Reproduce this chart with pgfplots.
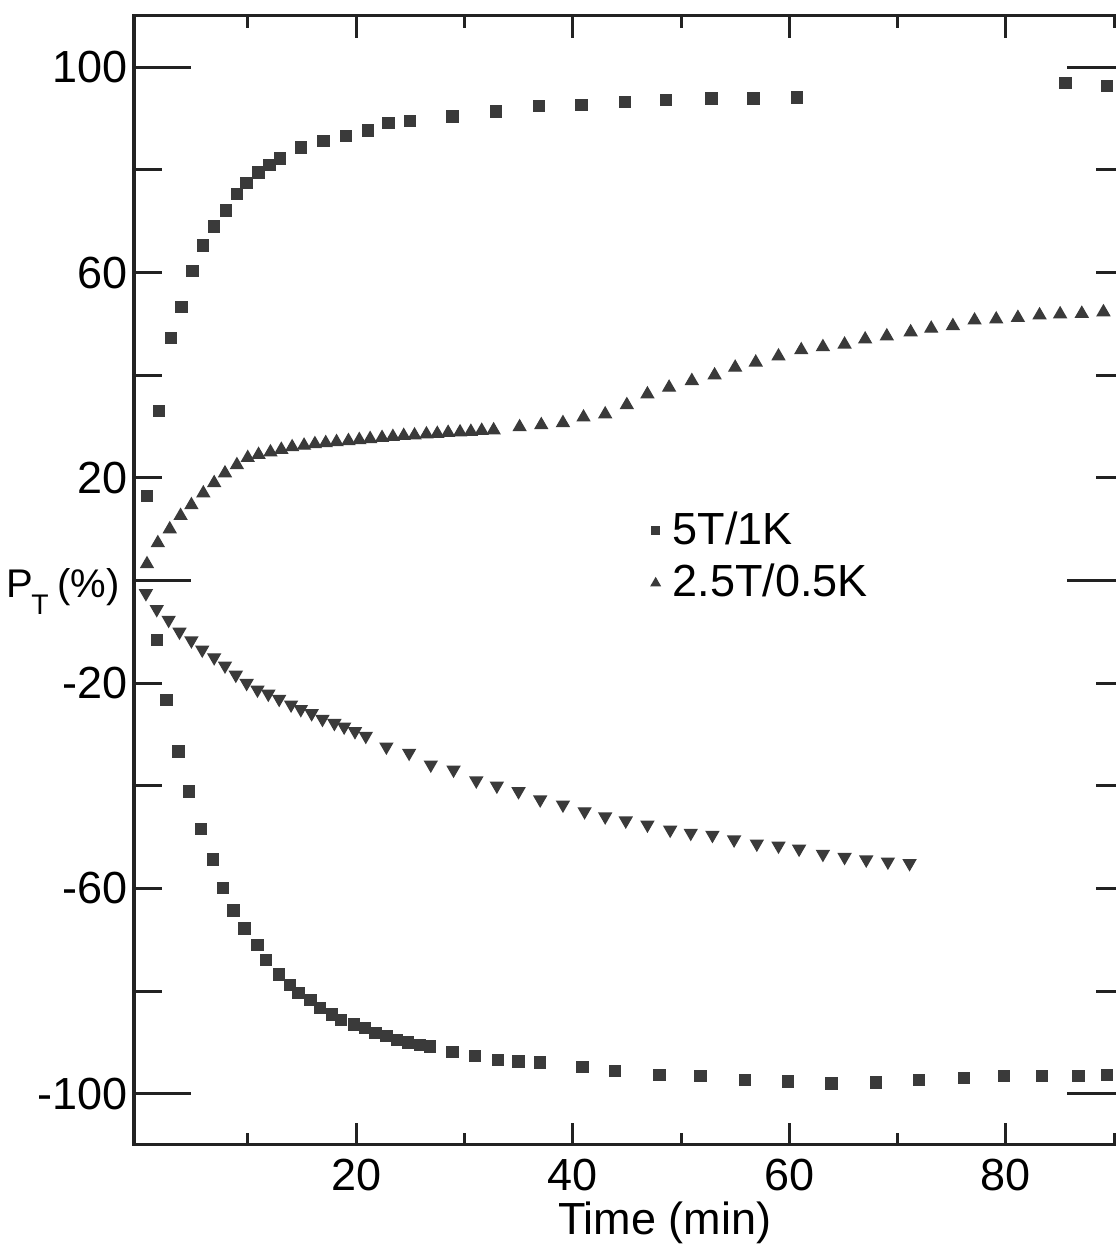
\documentclass[border=0pt]{standalone}
\usepackage{fontspec}
\setmainfont{Liberation Sans}
\usepackage{pgfplots}
\pgfplotsset{compat=1.18}
\definecolor{ink}{HTML}{222222}
\definecolor{mk}{HTML}{3A3A3A}
\pgfplotsset{
  base/.style={
    at={(0pt,0pt)}, anchor=south west,
    scale only axis, width=297pt, height=338.7pt,
    xmin=-0.5, xmax=90.9, ymin=-110, ymax=110,
    axis line style={line width=0.9pt, ink},
    tick style={line width=0.9pt, ink},
    tick align=inside,
  }
}
\begin{document}
\begin{tikzpicture}[font=\fontsize{13.5}{16}\selectfont]
\useasboundingbox (-40.2pt,-30pt) rectangle (294.3pt,343.5pt);
% x ticks
\begin{axis}[base,
  ytick=\empty,
  xtick={20,40,60,80}, xticklabels={20,40,60,80},
  minor xtick={10,30,50,70,90},
  major tick length=6.6pt, minor tick length=3.6pt,
  xticklabel style={font=\fontsize{13.5}{16}\selectfont, inner sep=0pt, yshift=-3.9pt},
  xlabel={Time (min)},
  every axis x label/.style={at={(axis description cs:0.536,0)}, anchor=base, yshift=-26.7pt, inner sep=0pt, font=\fontsize{13.5}{16}\selectfont},
]
\end{axis}
% long y ticks at -100, 0, 100 (no labels)
\begin{axis}[base,
  xtick=\empty,
  ytick={-100,0,100}, yticklabels={\empty,\empty,\empty},
  major tick length=17pt,
]
\end{axis}
% y ticks, labels and data
\begin{axis}[base,
  xtick=\empty,
  ytick={-100,-60,-20,20,60,100}, yticklabels={-100,-60,-20,20,60,100},
  minor ytick={-80,-40,40,80},
  major tick length=8.4pt, minor tick length=8.4pt,
  yticklabel style={font=\fontsize{13.5}{16}\selectfont, inner sep=0pt, xshift=-1.8pt},
  ylabel={P\kern-0.5pt\raisebox{-5.2pt}{\fontsize{8.5}{10}\selectfont T}\hspace{2.5pt}(\%)},
  every axis y label/.style={at={(axis description cs:0,0.5)}, anchor=base east, xshift=-4.2pt, yshift=-5pt, inner sep=0pt, rotate=0, font=\fontsize{12}{14}\selectfont},
  legend image code/.code={\draw[#1] plot coordinates {(0.09cm,0cm)}; \path (6pt,0pt);},
  legend style={at={(axis cs:47.2,14.5)}, anchor=north west, draw=none, fill=none, inner sep=0pt, row sep=1.5pt, font=\fontsize{13.5}{16}\selectfont, nodes={inner sep=1.5pt}},
  legend cell align=left,
]
% 5T/1K positive
\addplot[only marks, mark=square*, mark size=1.65pt, mk, forget plot] coordinates {
(0.7,16.5)(1.8,33.0)(2.9,47.2)(3.9,53.3)(4.9,60.3)(5.9,65.3)(6.9,69.0)(8.0,72.1)(9.0,75.3)(9.9,77.4)
(11.0,79.5)(12.0,80.9)(13.0,82.2)(14.9,84.4)(17.0,85.7)(19.1,86.6)(21.1,87.7)(23.0,89.1)(25.0,89.5)
(28.9,90.4)(32.9,91.4)(36.9,92.4)(40.8,92.6)(44.8,93.2)(48.6,93.6)(52.8,93.9)(56.7,93.9)(60.7,94.1)
(85.5,96.9)(89.3,96.3)
};
% 5T/1K negative
\addplot[only marks, mark=square*, mark size=1.65pt, mk, forget plot] coordinates {
(1.6,-11.6)(2.5,-23.3)(3.6,-33.3)(4.6,-41.1)(5.7,-48.4)(6.8,-54.4)(7.7,-59.9)(8.7,-64.3)(9.7,-67.8)
(10.9,-71.0)(11.7,-73.9)(12.9,-76.8)(13.9,-78.8)(14.7,-80.4)(15.8,-81.7)(16.7,-83.3)(17.8,-84.6)
(18.6,-85.6)(19.8,-86.5)(20.8,-87.2)(21.8,-88.2)(22.8,-88.8)(23.8,-89.5)(24.8,-90.0)(25.9,-90.5)
(26.8,-90.8)(28.9,-91.9)(31.0,-92.6)(33.1,-93.4)(35.0,-93.7)(37.0,-93.9)(40.9,-94.8)(43.9,-95.6)
(48.0,-96.3)(51.8,-96.5)(55.9,-97.3)(59.9,-97.6)(63.9,-98.0)(68.0,-97.8)(72.0,-97.3)(76.1,-96.9)
(79.8,-96.5)(83.3,-96.6)(86.7,-96.5)(89.3,-96.3)
};
% 2.5T/0.5K positive
\addplot[only marks, mark=triangle*, mark size=2.1pt, mk, forget plot] coordinates {
(0.7,3.2)(1.7,7.3)(2.8,10.0)(3.8,12.6)(4.8,14.7)(5.9,17.0)(6.9,19.0)(7.9,20.9)(9.0,22.5)(10.0,23.9)
(11.0,24.5)(12.1,25.0)(13.1,25.5)(14.1,26.0)(15.2,26.3)(16.2,26.6)(17.2,26.8)(18.2,27.0)(19.3,27.2)
(20.3,27.4)(21.3,27.6)(22.4,27.8)(23.4,28.0)(24.4,28.2)(25.4,28.3)(26.5,28.5)(27.5,28.6)(28.5,28.8)
(29.6,28.9)(30.6,29.0)(31.6,29.2)(32.7,29.3)
(35.1,29.9)(37.1,30.3)(39.1,30.7)(41.0,31.8)(43.0,32.4)(45.0,34.2)(46.9,36.3)(48.9,37.6)(51.0,38.9)
(53.1,40.0)(55.0,41.5)(56.9,42.5)(59.0,43.7)(61.1,44.9)(63.1,45.5)(65.1,46.0)(67.0,47.0)(69.0,47.6)
(71.2,48.4)(73.1,49.1)(75.1,49.6)(77.1,50.7)(79.1,50.9)(81.1,51.2)(83.1,51.7)(85.0,51.9)(87.0,52.0)
(89.0,52.3)
};
% 2.5T/0.5K negative
\addplot[only marks, mark=triangle*, mark size=2.1pt, mark options={rotate=180}, mk, forget plot] coordinates {
(0.6,-2.5)(1.6,-5.6)(2.7,-7.7)(3.7,-10.0)(4.8,-11.7)(5.8,-13.5)(6.9,-15.0)(7.9,-16.6)(8.9,-18.4)
(9.9,-20.0)(10.9,-21.3)(11.9,-22.1)(12.9,-23.1)(14.0,-24.2)(14.9,-25.1)(15.9,-25.9)(16.9,-27.0)
(18.0,-27.8)(18.9,-28.5)(19.9,-29.4)(20.9,-30.3)
(22.8,-32.4)(24.9,-33.6)(26.9,-35.9)(29.0,-36.9)(31.1,-39.0)(33.0,-40.0)(35.0,-41.1)(37.0,-42.7)
(39.1,-43.7)(41.1,-45.0)(43.0,-46.0)(44.9,-46.8)(46.9,-47.6)(49.0,-48.6)(50.9,-49.2)(52.9,-49.6)
(54.9,-50.5)(57.0,-51.3)(59.0,-51.7)(60.9,-52.3)(63.1,-53.3)(65.1,-53.9)(67.1,-54.4)(69.1,-54.8)
(71.1,-55.1)
};
\addlegendimage{mk, mark=square*, mark size=1.1pt}
\addlegendentry{5T/1K}
\addlegendimage{mk, mark=triangle*, mark size=1.5pt}
\addlegendentry{2.5T/0.5K}
\end{axis}
\end{tikzpicture}
\end{document}
